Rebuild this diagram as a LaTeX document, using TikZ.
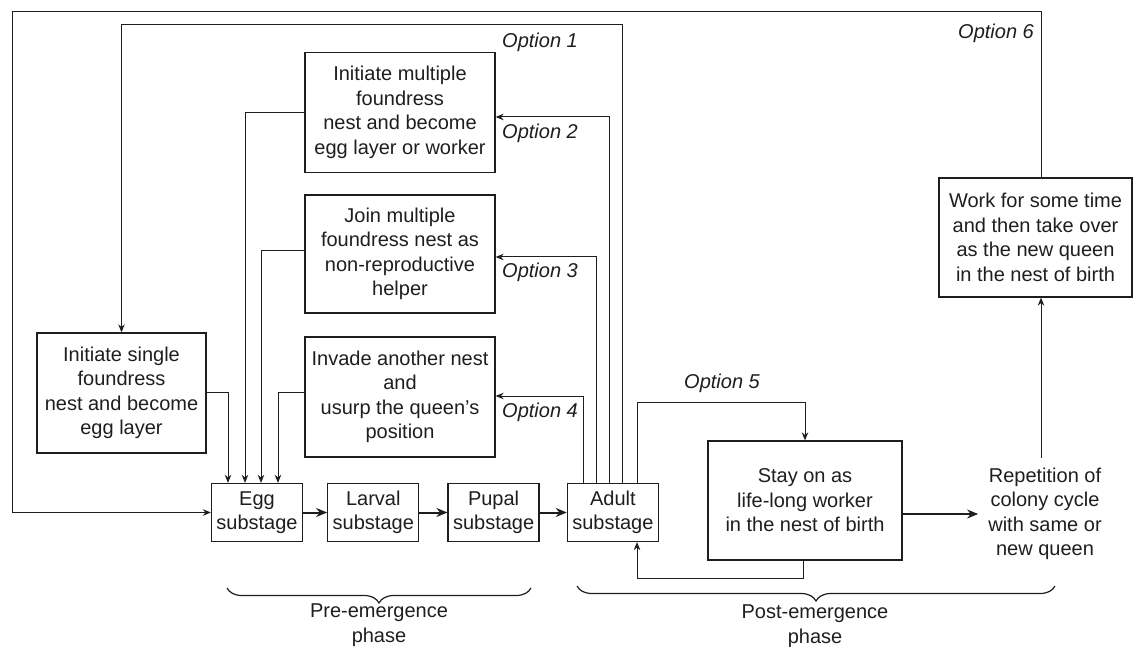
\documentclass[tikz,border=0pt]{standalone}
\usepackage{fontspec}
\setmainfont{Liberation Sans}
\usetikzlibrary{arrows.meta, positioning, decorations.pathreplacing, calc}
\definecolor{inkcol}{HTML}{1E1E1E}

\begin{document}
\begin{tikzpicture}[
    x=1pt, y=-1pt,
    node distance = 25pt,
    txt/.style = {align=center, inner sep=0pt, text=inkcol,
                  font=\fontsize{20}{24.5}\selectfont},
    sbox/.style = {txt, draw=inkcol, line width=1.3pt,
                   minimum width=190pt, minimum height=120pt},
    stagebox/.style = {txt, draw=inkcol, line width=1.3pt,
                       minimum width=91pt, minimum height=58pt},
    arr/.style = {-{Stealth[length=8pt, width=6.5pt]}, line width=1pt,
                  color=inkcol},
    bigarr/.style = {-{Stealth[length=11pt, width=9pt]}, line width=2pt,
                     color=inkcol},
    opt/.style = {anchor=west, inner sep=0pt, text=inkcol,
                  font=\fontsize{20}{24}\selectfont\itshape},
    brc/.style = {decorate, decoration={brace, mirror, amplitude=15pt},
                  line width=1.2pt, color=inkcol}
  ]
  \useasboundingbox (0,0) rectangle (1133,647);

  %% life stages
  \node[stagebox] (egg) at (257,512.5) {Egg\\substage};
  \node[stagebox, right=24pt of egg]    (larval) {Larval\\substage};
  \node[stagebox, right=28pt of larval] (pupal)  {Pupal\\substage};
  \node[stagebox, right=27pt of pupal]  (adult)  {Adult\\substage};

  %% founding options
  \node[sbox, minimum width=169pt] (single) at (121.5,393)
        {Initiate single\\foundress\\nest and become\\egg layer};
  \node[sbox] (multi)  at (400,112.5)
        {Initiate multiple\\foundress\\nest and become\\egg layer or worker};
  \node[sbox, minimum height=118pt] (join) at (400,254)
        {Join multiple\\foundress nest as\\non-reproductive\\helper};
  \node[sbox] (invade) at (400,397)
        {Invade another nest\\and\\usurp the queen's\\position};

  %% post-emergence
  \node[sbox, minimum width=194pt, minimum height=119pt] (stay) at (805,500.5)
        {Stay on as\\life-long worker\\in the nest of birth};
  \node[txt, inner sep=10pt] (rep) at (1045,514)
        {Repetition of\\colony cycle\\with same or\\new queen};
  \node[sbox, minimum width=193pt, minimum height=119pt] (work) at (1035.5,237.5)
        {Work for some time\\and then take over\\as the new queen\\in the nest of birth};

  %% corner points
  \coordinate (o1) at (622,25);
  \coordinate (o2) at (609,117);
  \coordinate (o3) at (596,257);
  \coordinate (o4) at (583,396);
  \coordinate (o5) at (637,402);
  \coordinate (r5) at (803,578);
  \coordinate (o6) at (12,12);
  \coordinate (u6) at (1041,12);
  \coordinate (e1) at (228,392);
  \coordinate (e2) at (245,113);
  \coordinate (e3) at (261,251);
  \coordinate (e4) at (278,392);

  %% stage arrows
  \draw[bigarr] (egg) -- (larval);
  \draw[bigarr] (larval) -- (pupal);
  \draw[bigarr] (pupal) -- (adult);
  \draw[bigarr, line width=1.6pt] (stay.east |- rep.west) -- (rep.west);

  %% options out of the adult stage
  \draw[arr] (adult.north -| o1) -- (o1) -| (single.north);
  \draw[arr] (adult.north -| o2) -- (o2) -- (o2 -| multi.east);
  \draw[arr] (adult.north -| o3) -- (o3) -- (o3 -| join.east);
  \draw[arr] (adult.north -| o4) -- (o4) -- (o4 -| invade.east);
  \draw[arr] (adult.north -| o5) -- (o5) -| (stay.north);
  \draw[arr] (stay.south -| r5) -- (r5) -| (adult.south -| o5);

  %% back to the egg stage
  \draw[arr] (single.east |- e1) -- (e1) -- (e1 |- egg.north);
  \draw[arr] (multi.west |- e2) -- (e2) -- (e2 |- egg.north);
  \draw[arr] (join.west |- e3) -- (e3) -- (e3 |- egg.north);
  \draw[arr] (invade.west |- e4) -- (e4) -- (e4 |- egg.north);

  %% option 6
  \draw[arr] (rep.north -| u6) -- (work.south -| u6);
  \draw[arr] (work.north -| u6) -- (u6) -- (o6) |- (egg.west);

  %% option labels
  \node[opt] (l1) at (502,42)  {Option 1};
  \node[opt] (l2) at (502,133) {Option 2};
  \node[opt] (l3) at (502,272) {Option 3};
  \node[opt] (l4) at (502,412) {Option 4};
  \node[opt] (l5) at (684,383) {Option 5};
  \node[opt] (l6) at (958,33)  {Option 6};

  %% phases
  \draw[brc] (227,588) -- (531,588);
  \node[txt] (pre) at (379,625) {Pre-emergence\\phase};
  \draw[brc] (577,586) -- (1055,586);
  \node[txt] (post) at (815,626) {Post-emergence\\phase};

\end{tikzpicture}
\end{document}
